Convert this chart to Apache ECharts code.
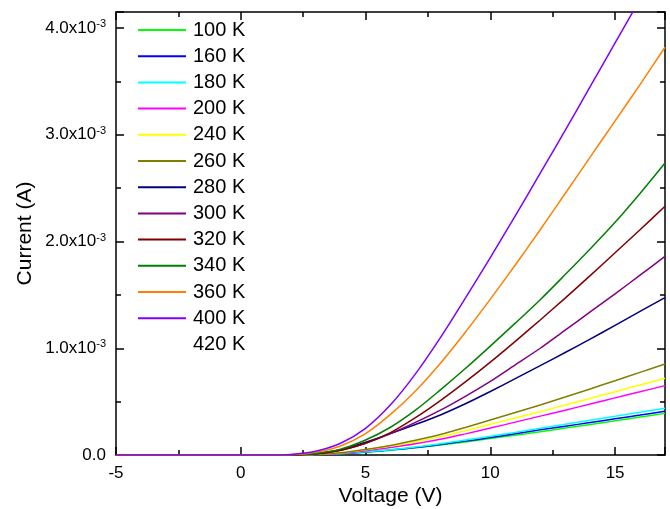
<!DOCTYPE html>
<html>
<head>
    <meta charset="UTF-8">
    <title>I-V curves</title>
    <script src="https://cdn.jsdelivr.net/npm/echarts@6/dist/echarts.min.js"></script>
    <style>
        html, body { margin: 0; padding: 0; background: #fff; }
        #main { width: 670px; height: 509px; }
    </style>
</head>
<body>
<div id="main"></div>
<script type="text/javascript">
    // voltage points (V), currents in units of 1e-3 A
    var voltage = [-5, -4, -3, -2, -1, 0, 1, 2, 3, 4, 5, 6, 7, 8, 9, 10, 11, 12, 13, 14, 15, 16, 17];

    var i100 = [0, 0, 0, 0, 0, 0, 0, 0.001, 0.004, 0.012, 0.026, 0.045, 0.067, 0.093, 0.122, 0.154, 0.186, 0.218, 0.252, 0.286, 0.32, 0.355, 0.39];
    var i160 = [0, 0, 0, 0, 0, 0, 0, 0.001, 0.004, 0.013, 0.028, 0.048, 0.071, 0.099, 0.13, 0.163, 0.199, 0.236, 0.27, 0.304, 0.339, 0.374, 0.41];
    var i180 = [0, 0, 0, 0, 0, 0, 0, 0.001, 0.005, 0.014, 0.03, 0.05, 0.075, 0.105, 0.14, 0.175, 0.212, 0.25, 0.287, 0.325, 0.362, 0.4, 0.438];
    var i200 = [0, 0, 0, 0, 0, 0, 0, 0.001, 0.005, 0.017, 0.04, 0.07, 0.105, 0.147, 0.198, 0.252, 0.308, 0.364, 0.42, 0.477, 0.535, 0.592, 0.65];
    var i240 = [0, 0, 0, 0, 0, 0, 0, 0.001, 0.006, 0.022, 0.05, 0.085, 0.125, 0.172, 0.228, 0.288, 0.347, 0.406, 0.468, 0.53, 0.593, 0.656, 0.719];
    var i260 = [0, 0, 0, 0, 0, 0, 0, 0.001, 0.006, 0.022, 0.052, 0.09, 0.138, 0.192, 0.258, 0.328, 0.398, 0.469, 0.543, 0.619, 0.696, 0.774, 0.853];
    var i280 = [0, 0, 0, 0, 0, 0, 0, 0.001, 0.015, 0.05, 0.12, 0.2, 0.285, 0.375, 0.48, 0.595, 0.715, 0.837, 0.96, 1.085, 1.215, 1.345, 1.475];
    var i300 = [0, 0, 0, 0, 0, 0, 0, 0.001, 0.012, 0.045, 0.11, 0.2, 0.305, 0.42, 0.55, 0.69, 0.845, 1.0, 1.17, 1.34, 1.51, 1.685, 1.86];
    var i320 = [0, 0, 0, 0, 0, 0, 0, 0.001, 0.012, 0.045, 0.11, 0.21, 0.35, 0.51, 0.685, 0.87, 1.065, 1.265, 1.47, 1.68, 1.895, 2.11, 2.33];
    var i340 = [0, 0, 0, 0, 0, 0, 0, 0.002, 0.015, 0.055, 0.14, 0.26, 0.42, 0.61, 0.81, 1.02, 1.235, 1.455, 1.69, 1.93, 2.18, 2.45, 2.735];
    var i360 = [0, 0, 0, 0, 0, 0, 0, 0.003, 0.025, 0.085, 0.2, 0.38, 0.6, 0.86, 1.15, 1.46, 1.78, 2.11, 2.45, 2.79, 3.13, 3.47, 3.82];
    var i400 = [0, 0, 0, 0, 0, 0, 0, 0.005, 0.035, 0.11, 0.25, 0.47, 0.76, 1.1, 1.47, 1.85, 2.24, 2.64, 3.04, 3.45, 3.86, 4.27, 4.68];
    var i420 = [];

    var names = ['100 K', '160 K', '180 K', '200 K', '240 K', '260 K', '280 K', '300 K', '320 K', '340 K', '360 K', '400 K', '420 K'];
    var colors = ['#00ff00', '#0000ff', '#00ffff', '#ff00ff', '#ffff00', '#808000', '#000080', '#800080', '#800000', '#008000', '#ff8000', '#8000ff', '#ffffff'];
    var currents = [i100, i160, i180, i200, i240, i260, i280, i300, i320, i340, i360, i400, i420];

    var font = 'Liberation Sans, Arial, sans-serif';

    var series = names.map(function (name, k) {
        var pts = currents[k].map(function (c, j) {
            return [voltage[j], c * 1e-3];
        });
        return {
            name: name,
            type: 'line',
            data: pts,
            symbol: 'none',
            smooth: 0.3,
            itemStyle: { color: colors[k] },
            lineStyle: { width: 1.5, color: colors[k] }
        };
    });

    function yLabel(v) {
        if (Math.abs(v) < 1e-9) return '{b|0.0}';
        return '{b|' + (v * 1000).toFixed(1) + 'x10}{s|-3}';
    }

    var myChart = echarts.init(document.getElementById('main'));
    var option = {
        animation: false,
        backgroundColor: '#ffffff',
        grid: { left: 116, top: 12, right: 5, bottom: 54, outerBoundsMode: 'none' },
        legend: {
            orient: 'vertical',
            left: 138,
            top: 20,
            padding: 0,
            icon: 'rect',
            itemWidth: 48,
            itemHeight: 2,
            itemGap: 6.2,
            textStyle: { fontFamily: font, fontSize: 20, lineHeight: 20, color: '#000', padding: [0, 0, 0, 2] },
            data: names
        },
        xAxis: [{
            type: 'value',
            min: -5,
            max: 17,
            interval: 5,
            name: 'Voltage (V)',
            nameLocation: 'middle',
            nameGap: 31,
            nameMoveOverlap: false,
            nameTextStyle: { fontFamily: font, fontSize: 21, color: '#000' },
            axisLine: { onZero: false, lineStyle: { color: '#000', width: 1.5 } },
            axisTick: { inside: true, length: 8, lineStyle: { color: '#000', width: 1.5 } },
            minorTick: { show: true, splitNumber: 2, length: 5, lineStyle: { color: '#000', width: 1.5 } },
            axisLabel: { fontFamily: font, fontSize: 17, color: '#000', margin: 10, showMaxLabel: false },
            splitLine: { show: false }
        }, {
            type: 'value',
            position: 'top',
            min: -5,
            max: 17,
            interval: 5,
            axisLine: { onZero: false, lineStyle: { color: '#000', width: 1.5 } },
            axisTick: { inside: true, length: 8, lineStyle: { color: '#000', width: 1.5 } },
            minorTick: { show: true, splitNumber: 2, length: 5, lineStyle: { color: '#000', width: 1.5 } },
            axisLabel: { show: false },
            splitLine: { show: false }
        }],
        yAxis: [{
            type: 'value',
            min: 0,
            max: 4.15e-3,
            interval: 1e-3,
            name: 'Current (A)',
            nameLocation: 'middle',
            nameGap: 80,
            nameMoveOverlap: false,
            nameTextStyle: { fontFamily: font, fontSize: 21, color: '#000' },
            axisLine: { onZero: false, lineStyle: { color: '#000', width: 1.5 } },
            axisTick: { inside: true, length: 8, lineStyle: { color: '#000', width: 1.5 } },
            minorTick: { show: true, splitNumber: 2, length: 5, lineStyle: { color: '#000', width: 1.5 } },
            axisLabel: {
                margin: 10,
                showMaxLabel: false,
                formatter: yLabel,
                rich: {
                    b: { fontFamily: font, fontSize: 17, color: '#000' },
                    s: { fontFamily: font, fontSize: 11, color: '#000', verticalAlign: 'top', padding: [0, 0, 8, 0] }
                }
            },
            splitLine: { show: false }
        }, {
            type: 'value',
            position: 'right',
            min: 0,
            max: 4.15e-3,
            interval: 1e-3,
            axisLine: { onZero: false, lineStyle: { color: '#000', width: 1.5 } },
            axisTick: { inside: true, length: 8, lineStyle: { color: '#000', width: 1.5 } },
            minorTick: { show: true, splitNumber: 2, length: 5, lineStyle: { color: '#000', width: 1.5 } },
            axisLabel: { show: false },
            splitLine: { show: false }
        }],
        series: series
    };
    myChart.setOption(option);
</script>
</body>
</html>
